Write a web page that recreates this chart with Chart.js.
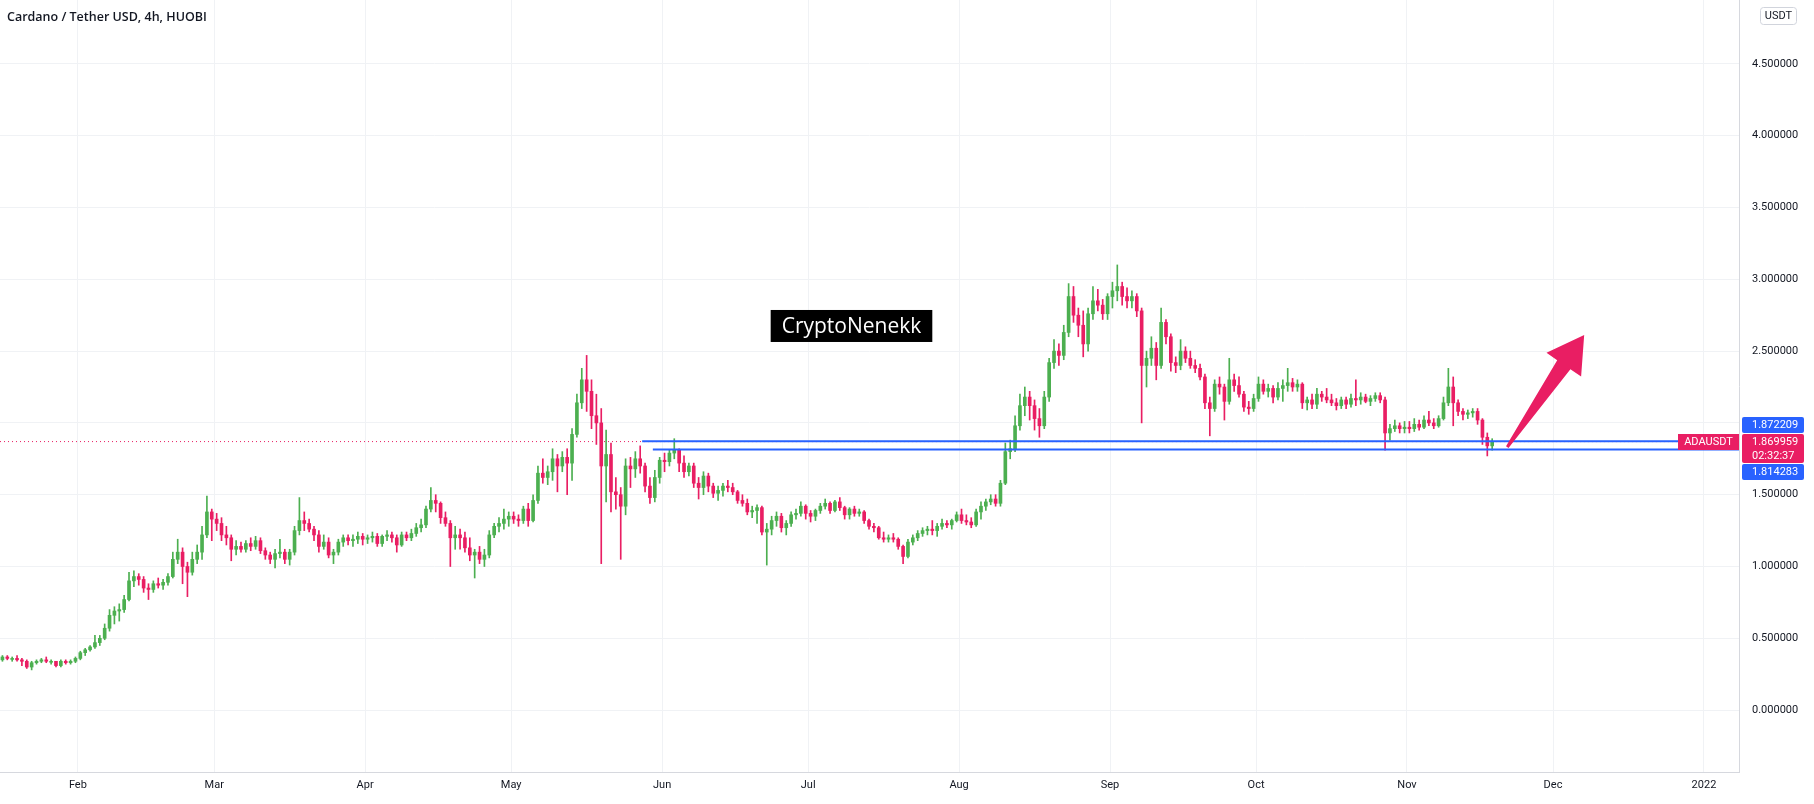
<!DOCTYPE html>
<html>
<head>
<meta charset="utf-8">
<script src="https://cdn.jsdelivr.net/npm/chart.js@4.4.1/dist/chart.umd.min.js"></script>
<style>
html, body { margin: 0; padding: 0; background: #fff; }
</style>
</head>
<body>
<canvas id="chart" width="1814" height="804"></canvas>
<script>
// daily candles, day 0 = 16 Jan 2021 ... day 306 = 18 Nov 2021
var opens = [
  .35,.37,.36,.36,.35,.34,.30,.33,.34,.35,.34,.34,.31,.34,.33,.34,
  .36,.40,.42,.44,.47,.50,.57,.66,.69,.70,.77,.90,.93,.91,.85,.84,.88,.87,.89,.93,1.05,1.10,1.00,.96,1.05,1.10,1.22,1.38,
  1.33,1.30,1.22,1.20,1.12,1.14,1.12,1.16,1.14,1.18,1.11,1.08,1.05,1.09,1.10,1.05,1.10,1.25,1.32,1.30,1.26,1.22,1.14,1.17,1.08,1.10,1.17,1.20,1.18,1.19,1.21,
  1.19,1.20,1.21,1.16,1.21,1.22,1.20,1.15,1.22,1.20,1.23,1.27,1.29,1.40,1.46,1.44,1.34,1.30,1.20,1.22,1.20,1.13,1.08,1.10,1.05,1.08,1.22,1.28,1.30,1.33,
  1.35,1.33,1.32,1.40,1.32,1.46,1.65,1.62,1.66,1.75,1.70,1.76,1.72,1.92,2.14,2.30,2.22,2.05,2.00,1.70,1.78,1.52,1.50,1.42,1.70,1.68,1.75,1.70,1.56,1.48,1.62,
  1.74,1.73,1.79,1.81,1.72,1.66,1.70,1.58,1.55,1.63,1.56,1.51,1.53,1.56,1.55,1.52,1.46,1.44,1.38,1.39,1.41,1.24,1.26,1.32,1.35,1.27,1.30,1.36,1.37,1.42,
  1.37,1.35,1.39,1.42,1.44,1.39,1.45,1.41,1.36,1.40,1.37,1.38,1.32,1.28,1.27,1.20,1.19,1.20,1.19,1.14,1.07,1.17,1.20,1.23,1.25,1.26,1.25,1.28,1.30,1.29,1.32,
  1.36,1.32,1.31,1.29,1.38,1.42,1.45,1.47,1.44,1.58,1.80,1.82,1.98,2.12,2.18,2.12,2.03,1.98,2.18,2.42,2.50,2.47,2.63,2.88,2.75,2.68,2.55,2.76,2.85,2.82,2.76,
  2.88,2.92,2.95,2.88,2.85,2.88,2.78,2.40,2.45,2.52,2.40,2.70,2.60,2.42,2.40,2.50,2.45,2.40,2.38,2.32,2.14,2.10,2.27,2.25,2.15,2.30,2.26,2.20,2.11,2.10,
  2.17,2.27,2.22,2.24,2.18,2.24,2.26,2.28,2.25,2.27,2.14,2.16,2.13,2.20,2.18,2.16,2.14,2.12,2.16,2.13,2.17,2.16,2.18,2.15,2.17,2.19,2.16,1.93,1.96,1.98,1.96,
  1.97,1.96,1.99,1.97,2.02,2.00,1.98,2.03,2.14,2.25,2.14,2.08,2.06,2.07,2.08,2.02,1.90,1.84
];
var highs = [
  .38,.38,.37,.38,.36,.35,.34,.35,.36,.37,.35,.34,.35,.35,.35,.37,
  .41,.43,.45,.52,.52,.60,.70,.72,.74,.80,.96,.97,.95,.93,.88,.90,.92,.91,.95,1.10,1.19,1.13,1.03,1.10,1.15,1.28,1.49,1.40,
  1.37,1.34,1.28,1.22,1.18,1.17,1.18,1.20,1.21,1.20,1.13,1.10,1.12,1.19,1.12,1.12,1.28,1.48,1.38,1.33,1.28,1.25,1.22,1.20,1.12,1.19,1.22,1.22,1.22,1.24,1.23,
  1.22,1.24,1.23,1.22,1.25,1.24,1.22,1.24,1.24,1.26,1.30,1.33,1.42,1.55,1.50,1.45,1.38,1.32,1.28,1.26,1.24,1.20,1.12,1.14,1.12,1.25,1.30,1.34,1.40,1.38,
  1.38,1.36,1.42,1.44,1.50,1.70,1.75,1.70,1.82,1.78,1.80,1.82,1.96,2.20,2.38,2.47,2.30,2.20,2.10,1.95,1.86,1.62,1.55,1.75,1.76,1.80,1.84,1.72,1.62,1.67,1.76,
  1.79,1.81,1.89,1.82,1.77,1.72,1.72,1.62,1.66,1.65,1.58,1.56,1.58,1.60,1.58,1.53,1.50,1.47,1.42,1.43,1.42,1.30,1.35,1.38,1.37,1.32,1.38,1.40,1.45,1.43,
  1.39,1.40,1.44,1.47,1.45,1.46,1.48,1.42,1.41,1.42,1.40,1.39,1.33,1.30,1.28,1.24,1.22,1.23,1.20,1.15,1.19,1.22,1.25,1.27,1.28,1.32,1.30,1.33,1.32,1.33,1.38,
  1.40,1.36,1.34,1.40,1.45,1.47,1.50,1.50,1.60,1.86,1.88,2.05,2.20,2.25,2.22,2.16,2.10,2.22,2.45,2.58,2.55,2.68,2.97,2.95,2.80,2.78,2.80,2.95,2.93,2.86,2.90,
  2.98,3.10,2.98,2.94,2.92,2.90,2.80,2.50,2.60,2.56,2.80,2.72,2.62,2.46,2.58,2.53,2.50,2.44,2.41,2.34,2.18,2.30,2.32,2.27,2.45,2.34,2.32,2.22,2.15,2.20,
  2.32,2.30,2.27,2.26,2.28,2.30,2.38,2.31,2.30,2.28,2.18,2.20,2.24,2.22,2.24,2.20,2.17,2.18,2.18,2.20,2.30,2.21,2.20,2.19,2.21,2.21,2.18,1.99,2.02,2.00,2.01,
  2.01,2.03,2.02,2.05,2.08,2.03,2.05,2.18,2.38,2.32,2.16,2.10,2.09,2.10,2.10,2.03,1.93,1.89
];
var lows = [
  .34,.35,.34,.34,.31,.29,.28,.32,.33,.33,.32,.30,.30,.32,.32,.33,
  .35,.38,.41,.43,.45,.49,.55,.60,.62,.68,.76,.86,.87,.82,.77,.82,.85,.84,.87,.92,1.02,.88,.79,.94,1.02,1.05,1.20,1.18,
  1.25,1.18,1.15,1.04,1.08,1.10,1.10,1.11,1.12,1.09,1.05,1.02,.99,1.06,1.02,1.01,1.08,1.22,1.25,1.24,1.18,1.10,1.12,1.06,1.02,1.08,1.14,1.15,1.14,1.16,1.15,
  1.16,1.17,1.14,1.14,1.18,1.17,1.10,1.14,1.18,1.18,1.21,1.24,1.27,1.38,1.38,1.30,1.28,1.00,1.12,1.12,1.10,1.04,.92,1.02,1.00,1.06,1.20,1.24,1.26,1.28,
  1.30,1.28,1.30,1.28,1.31,1.44,1.58,1.57,1.60,1.52,1.66,1.50,1.60,1.90,2.10,2.08,1.96,1.85,1.02,1.45,1.38,1.40,1.05,1.36,1.55,1.62,1.65,1.52,1.44,1.45,1.58,
  1.66,1.70,1.75,1.66,1.62,1.63,1.55,1.47,1.50,1.52,1.48,1.46,1.49,1.52,1.50,1.44,1.42,1.36,1.34,1.30,1.22,1.01,1.22,1.28,1.24,1.22,1.28,1.33,1.35,1.33,
  1.31,1.32,1.37,1.40,1.37,1.38,1.39,1.33,1.33,1.35,1.35,1.30,1.26,1.24,1.19,1.17,1.17,1.17,1.12,1.02,1.06,1.15,1.18,1.21,1.22,1.22,1.21,1.26,1.27,1.26,1.31,
  1.30,1.29,1.27,1.28,1.33,1.39,1.43,1.42,1.42,1.57,1.75,1.80,1.95,2.05,2.02,1.95,1.90,1.96,2.15,2.38,2.40,2.44,2.60,2.70,2.60,2.46,2.50,2.72,2.78,2.72,2.72,
  2.80,2.85,2.82,2.80,2.80,2.74,2.00,2.25,2.40,2.30,2.38,2.55,2.36,2.35,2.37,2.42,2.38,2.35,2.30,2.10,1.91,2.08,2.20,2.02,2.13,2.22,2.18,2.08,2.06,2.08,
  2.15,2.20,2.18,2.14,2.16,2.15,2.22,2.22,2.22,2.10,2.09,2.10,2.10,2.15,2.14,2.12,2.09,2.10,2.10,2.11,2.12,2.13,2.14,2.12,2.15,2.14,1.81,1.88,1.94,1.93,1.93,
  1.93,1.94,1.95,1.96,1.98,1.96,1.97,2.02,2.12,1.98,2.05,2.02,2.03,2.04,1.99,1.85,1.77,1.81
];
var closes = [
  .37,.36,.36,.35,.34,.30,.33,.34,.35,.34,.34,.31,.34,.33,.34,.36,
  .40,.42,.44,.47,.50,.57,.66,.69,.70,.77,.90,.93,.91,.85,.84,.88,.87,.89,.93,1.05,1.10,1.00,.96,1.05,1.10,1.22,1.38,1.33,
  1.30,1.22,1.20,1.12,1.14,1.12,1.16,1.14,1.18,1.11,1.08,1.05,1.09,1.10,1.05,1.10,1.25,1.32,1.30,1.26,1.22,1.14,1.17,1.08,1.10,1.17,1.20,1.18,1.19,1.21,1.19,
  1.20,1.21,1.16,1.21,1.22,1.20,1.15,1.22,1.20,1.23,1.27,1.29,1.40,1.46,1.44,1.34,1.30,1.20,1.22,1.20,1.13,1.08,1.10,1.05,1.08,1.22,1.28,1.30,1.33,1.35,
  1.33,1.32,1.40,1.32,1.46,1.65,1.62,1.66,1.75,1.70,1.76,1.72,1.92,2.14,2.30,2.22,2.05,2.00,1.70,1.78,1.52,1.50,1.42,1.70,1.68,1.75,1.70,1.56,1.48,1.62,1.74,
  1.73,1.79,1.81,1.72,1.66,1.70,1.58,1.55,1.63,1.56,1.51,1.53,1.56,1.55,1.52,1.46,1.44,1.38,1.39,1.41,1.24,1.26,1.32,1.35,1.27,1.30,1.36,1.37,1.42,1.37,
  1.35,1.39,1.42,1.44,1.39,1.45,1.41,1.36,1.40,1.37,1.38,1.32,1.28,1.27,1.20,1.19,1.20,1.19,1.14,1.07,1.17,1.20,1.23,1.25,1.26,1.25,1.28,1.30,1.29,1.32,1.36,
  1.32,1.31,1.29,1.38,1.42,1.45,1.47,1.44,1.58,1.80,1.82,1.98,2.12,2.18,2.12,2.03,1.98,2.18,2.42,2.50,2.47,2.63,2.88,2.75,2.68,2.55,2.76,2.85,2.82,2.76,2.88,
  2.92,2.95,2.88,2.85,2.88,2.78,2.40,2.45,2.52,2.40,2.70,2.60,2.42,2.40,2.50,2.45,2.40,2.38,2.32,2.14,2.10,2.27,2.25,2.15,2.30,2.26,2.20,2.11,2.10,2.17,
  2.27,2.22,2.24,2.18,2.24,2.26,2.28,2.25,2.27,2.14,2.16,2.13,2.20,2.18,2.16,2.14,2.12,2.16,2.13,2.17,2.16,2.18,2.15,2.17,2.19,2.16,1.93,1.96,1.98,1.96,1.97,
  1.96,1.99,1.97,2.02,2.00,1.98,2.03,2.14,2.25,2.14,2.08,2.06,2.07,2.08,2.02,1.90,1.84,1.87
];

var monthDays = [16, 44, 75, 105, 136, 166, 197, 228, 258, 289, 319, 350];
var monthLabels = ['Feb', 'Mar', 'Apr', 'May', 'Jun', 'Jul', 'Aug', 'Sep', 'Oct', 'Nov', 'Dec', '2022'];
var priceTicks = [0, 0.5, 1, 1.5, 2, 2.5, 3, 3.5, 4, 4.5];

var lastPrice = 1.869959;
var levelPrices = [1.872209, 1.814283];
var levelStarts = [131.9, 134.1];
var arrowTail = [309.6, 1.832];
var arrowTip = [325.4, 2.612];
var noteText = 'CryptoNenekk';
var notePos = [174.9, 2.675];
var titleText = 'Cardano / Tether USD, 4h, HUOBI';

var xMin = 0, xMax = 357.2, yMin = -0.431, yMax = 4.945;
var upColor = '#4caf50', downColor = '#e91e63', levelColor = '#2962ff';
var textColor = '#131722', gridColor = '#f0f2f5';

var wickData = [], bodyData = [], colors = [];
for (var i = 0; i < closes.length; i++) {
  wickData.push({ x: i + 0.5, y: [lows[i], highs[i]] });
  bodyData.push({ x: i + 0.5, y: [opens[i], closes[i]] });
  colors.push(closes[i] >= opens[i] ? upColor : downColor);
}

function tag(ctx, x, y, w, h, bg, lines) {
  ctx.fillStyle = bg;
  ctx.beginPath();
  ctx.roundRect(x, y, w, h, 2);
  ctx.fill();
  ctx.fillStyle = '#fff';
  ctx.textAlign = 'left';
  ctx.textBaseline = 'middle';
  for (var k = 0; k < lines.length; k++) {
    ctx.fillText(lines[k], x + 10, y + 8 + k * 14);
  }
}

var overlay = {
  id: 'overlay',
  afterDraw: function(chart) {
    var ctx = chart.ctx, xs = chart.scales.x, ys = chart.scales.y, area = chart.chartArea;
    ctx.save();

    // title
    ctx.font = '600 12.5px "Open Sans", sans-serif';
    ctx.fillStyle = textColor;
    ctx.textAlign = 'left';
    ctx.textBaseline = 'middle';
    ctx.fillText(titleText, 7, 17);

    // note box
    ctx.font = '21px "Open Sans", sans-serif';
    var nx = xs.getPixelForValue(notePos[0]), ny = ys.getPixelForValue(notePos[1]);
    var nw = ctx.measureText(noteText).width + 22;
    ctx.fillStyle = '#000';
    ctx.fillRect(nx - nw / 2, ny - 16, nw, 32);
    ctx.fillStyle = '#fff';
    ctx.textAlign = 'center';
    ctx.fillText(noteText, nx, ny + 1);

    // arrow
    var tx = xs.getPixelForValue(arrowTail[0]), ty = ys.getPixelForValue(arrowTail[1]);
    var px = xs.getPixelForValue(arrowTip[0]), py = ys.getPixelForValue(arrowTip[1]);
    var len = Math.hypot(px - tx, py - ty), ux = (px - tx) / len, uy = (py - ty) / len;
    var nxv = -uy, nyv = ux;
    var bx = px - ux * 36, by = py - uy * 36;
    ctx.fillStyle = downColor;
    ctx.beginPath();
    ctx.moveTo(tx + nxv * 1.5, ty + nyv * 1.5);
    ctx.lineTo(bx + nxv * 8, by + nyv * 8);
    ctx.lineTo(bx + nxv * 21, by + nyv * 21);
    ctx.lineTo(px, py);
    ctx.lineTo(bx - nxv * 21, by - nyv * 21);
    ctx.lineTo(bx - nxv * 8, by - nyv * 8);
    ctx.lineTo(tx - nxv * 1.5, ty - nyv * 1.5);
    ctx.closePath();
    ctx.fill();

    // price tags on the axis
    ctx.font = '11px Roboto, sans-serif';
    var ry = ys.getPixelForValue(lastPrice);
    var redTop = Math.round(ry - 8);
    var left = area.right + 3, w = 62;
    tag(ctx, left, redTop, w, 29, downColor, [lastPrice.toFixed(6), '02:32:37']);
    tag(ctx, left, redTop - 17, w, 16, levelColor, [levelPrices[0].toFixed(6)]);
    tag(ctx, left, redTop + 30, w, 16, levelColor, [levelPrices[1].toFixed(6)]);

    // symbol label
    ctx.fillStyle = downColor;
    ctx.fillRect(area.right - 61, redTop, 61, 16);
    ctx.fillStyle = '#fff';
    ctx.textAlign = 'center';
    ctx.fillText('ADAUSDT', area.right - 30.5, redTop + 8);

    // currency box
    ctx.strokeStyle = '#d1d4dc';
    ctx.lineWidth = 1;
    ctx.beginPath();
    ctx.roundRect(1760.5, 7.5, 36, 17, 3);
    ctx.stroke();
    ctx.fillStyle = textColor;
    ctx.fillText('USDT', 1778.5, 16);

    ctx.restore();
  }
};

new Chart(document.getElementById('chart'), {
  type: 'bar',
  data: {
    datasets: [
      { type: 'line', data: [{ x: xMin, y: lastPrice }, { x: xMax, y: lastPrice }], borderColor: downColor, borderWidth: 1, borderDash: [1, 3], pointRadius: 0, order: 5 },
      { data: wickData, backgroundColor: colors, barThickness: 1, grouped: false, order: 4 },
      { data: bodyData, backgroundColor: colors, barThickness: 3, minBarLength: 1, grouped: false, order: 3 },
      { type: 'line', data: [{ x: levelStarts[0], y: levelPrices[0] }, { x: xMax, y: levelPrices[0] }], borderColor: levelColor, borderWidth: 2, pointRadius: 0, order: 1 },
      { type: 'line', data: [{ x: levelStarts[1], y: levelPrices[1] }, { x: xMax, y: levelPrices[1] }], borderColor: levelColor, borderWidth: 2, pointRadius: 0, order: 1 }
    ]
  },
  options: {
    responsive: false,
    animation: false,
    devicePixelRatio: 1,
    events: [],
    layout: { padding: 0 },
    plugins: { legend: { display: false }, tooltip: { enabled: false } },
    scales: {
      x: {
        type: 'linear',
        position: 'bottom',
        min: xMin,
        max: xMax,
        offset: false,
        afterBuildTicks: function(s) { s.ticks = monthDays.map(function(v) { return { value: v }; }); },
        afterFit: function(s) { s.height = 32; s.paddingLeft = 0; s.paddingRight = 0; },
        ticks: {
          autoSkip: false,
          maxRotation: 0,
          padding: 7,
          color: textColor,
          font: { family: 'Roboto', size: 11 },
          callback: function(v) { return monthLabels[monthDays.indexOf(v)]; }
        },
        grid: { color: gridColor, drawTicks: false, offset: false },
        border: { color: '#d6d8de' }
      },
      y: {
        type: 'linear',
        position: 'right',
        min: yMin,
        max: yMax,
        afterBuildTicks: function(s) { s.ticks = priceTicks.map(function(v) { return { value: v }; }); },
        afterFit: function(s) { s.width = 75; s.paddingTop = 0; s.paddingBottom = 0; },
        ticks: {
          padding: 13,
          color: textColor,
          font: { family: 'Roboto', size: 11 },
          callback: function(v) { return v === 2 ? '' : v.toFixed(6); }
        },
        grid: { color: gridColor, drawTicks: false },
        border: { color: '#d6d8de' }
      }
    }
  },
  plugins: [overlay]
});
</script>
</body>
</html>
